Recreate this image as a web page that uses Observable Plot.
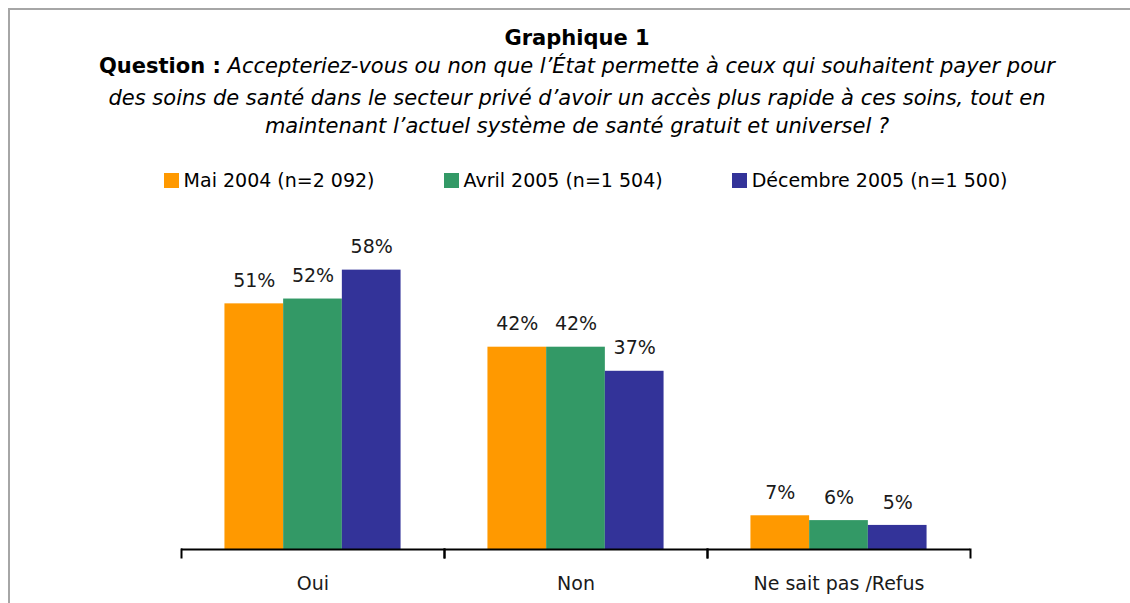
<!DOCTYPE html>
<html>
<head>
<meta charset="utf-8">
<script src="https://cdn.jsdelivr.net/npm/d3@7"></script>
<script src="https://cdn.jsdelivr.net/npm/@observablehq/plot@0.6"></script>
<style>
  html, body { margin: 0; padding: 0; background: #fff; }
  #page { position: relative; width: 1130px; height: 603px; overflow: hidden; font-family: "DejaVu Sans", Verdana, sans-serif; color: #000; }
  #border { position: absolute; left: 8px; top: 8px; width: 1300px; height: 800px; border: 2px solid #a6a6a6; box-sizing: border-box; }
  .line { position: absolute; left: 0; width: 1154px; text-align: center; font-size: 21px; line-height: 26px; white-space: nowrap; }
  .title { font-weight: bold; }
  .q { font-style: italic; }
  #legend { position: absolute; left: 0; width: 1171px; top: 168px; display: flex; justify-content: center; gap: 69px; font-size: 19px; line-height: 24px; }
  .item { display: flex; align-items: center; white-space: nowrap; }
  .sw { width: 15px; height: 15px; margin-right: 5px; }
  #chart { position: absolute; left: 0; top: 200px; }
</style>
</head>
<body>
<div id="page">
  <div id="border"></div>
  <div class="line title" style="top:25px">Graphique 1</div>
  <div class="line" style="top:53px"><b>Question :</b> <span class="q">Accepteriez-vous ou non que l’État permette à ceux qui souhaitent payer pour</span></div>
  <div class="line q" style="top:85px">des soins de santé dans le secteur privé d’avoir un accès plus rapide à ces soins, tout en</div>
  <div class="line q" style="top:113px">maintenant l’actuel système de santé gratuit et universel ?</div>
  <div id="legend"></div>
  <div id="chart"></div>
</div>
<script>
const categories = ["Oui", "Non", "Ne sait pas /Refus"];
const series = ["Mai 2004 (n=2 092)", "Avril 2005 (n=1 504)", "Décembre 2005 (n=1 500)"];
const mai2004 = [51, 42, 7];
const avril2005 = [52, 42, 6];
const decembre2005 = [58, 37, 5];
const colors = ["#ff9900", "#339966", "#333399"];

const seriesValues = [mai2004, avril2005, decembre2005];
const data = categories.flatMap((c, i) =>
  series.map((s, j) => ({category: c, series: s, value: seriesValues[j][i]}))
);

const legend = document.getElementById("legend");
series.forEach((s, j) => {
  const item = document.createElement("div");
  item.className = "item";
  const sw = document.createElement("span");
  sw.className = "sw";
  sw.style.background = colors[j];
  const t = document.createElement("span");
  t.textContent = s;
  item.appendChild(sw);
  item.appendChild(t);
  legend.appendChild(item);
});

const chart = Plot.plot({
  width: 1130,
  height: 403,
  marginLeft: 181,
  marginRight: 160,
  marginTop: 60,
  marginBottom: 54,
  style: {fontFamily: "DejaVu Sans, Verdana, sans-serif", fontSize: "19px", color: "#000", background: "transparent"},
  fx: {domain: categories, padding: 0, label: null},
  x: {domain: series, paddingInner: 0, paddingOuter: 0.74, axis: null, round: false},
  y: {domain: [0, 60], axis: null},
  color: {domain: series, range: colors},
  marks: [
    Plot.barY(data, {fx: "category", x: "series", y: "value", fill: "series"}),
    Plot.text(data, {fx: "category", x: "series", y: "value", text: d => d.value + "%", dy: -23, fontSize: 19, fill: "#1a1a1a"}),
    Plot.ruleY([0], {stroke: "#000", strokeWidth: 2}),
    Plot.frame({anchor: "left", insetTop: 289, insetBottom: -8, stroke: "#000", strokeWidth: 2}),
    Plot.frame({anchor: "right", insetTop: 289, insetBottom: -8, stroke: "#000", strokeWidth: 2}),
    Plot.axisFx({anchor: "bottom", tickSize: 0, tickPadding: 27, label: null, fontSize: 19, fill: "#1a1a1a"})
  ]
});
document.getElementById("chart").appendChild(chart);
</script>
</body>
</html>
